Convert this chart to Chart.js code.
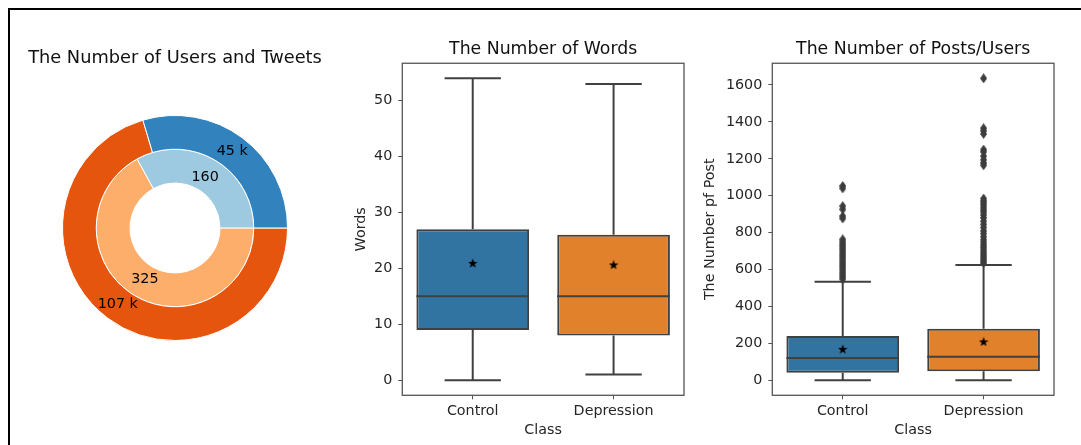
<!DOCTYPE html>
<html>
<head>
<meta charset="utf-8">
<script src="https://cdn.jsdelivr.net/npm/chart.js@4/dist/chart.umd.min.js"></script>
<style>
  html, body { margin: 0; padding: 0; background: #fff; overflow: hidden; width: 1081px; height: 445px; }
  #frame { position: absolute; left: 8px; top: 8px; width: 1100px; height: 460px;
           border-top: 2px solid #000; border-left: 2px solid #000; }
  canvas { position: absolute; top: 0; }
  #pie { left: 0; }
  #words { left: 340px; }
  #posts { left: 690px; }
</style>
</head>
<body>
<div id="frame"></div>
<canvas id="pie" width="340" height="445"></canvas>
<canvas id="words" width="350" height="445"></canvas>
<canvas id="posts" width="370" height="445"></canvas>
<script>
// ---- data ----
const categories = ['Control', 'Depression'];

// doughnut: users (inner ring) and tweets in thousands (outer ring)
const users = [160, 325];
const tweetsK = [45, 107];

// word counts per post
const wordQ1 = [9, 8];
const wordMedian = [15, 15];
const wordQ3 = [27, 26];
const wordLow = [0, 1];
const wordHigh = [54, 53];
const wordMean = [21, 20.7];
const wordTicks = [0, 10, 20, 30, 40, 50];

// posts per user
const postQ1 = [41, 49];
const postMedian = [121, 128];
const postQ3 = [240, 280];
const postLow = [1, 1];
const postHigh = [534, 625];
const postMean = [171, 211];
const postTicks = [0, 200, 400, 600, 800, 1000, 1200, 1400, 1600];
const postOutliersControl = [1053, 1040, 944, 926, 890, 877, 764, 752, 740, 728, 716, 704, 692, 680,
  668, 656, 644, 632, 620, 608, 596, 584, 572, 560, 548];
const postOutliersDepression = [1636, 1366, 1352, 1335, 1250, 1238, 1215, 1195, 1178, 1165, 985, 972,
  960, 948, 935, 922, 910, 895, 880, 862, 845, 828, 810, 795, 778, 762, 748, 735, 722, 710, 698, 686,
  675, 665, 655, 645, 636];

// ---- styling ----
const FONT = "'DejaVu Sans', sans-serif";
Chart.defaults.font.family = FONT;
Chart.defaults.animation = false;
Chart.defaults.color = '#262626';

const ringOuter = ['#3182bd', '#e6550d'];
const ringInner = ['#9ecae1', '#fdae6b'];
const boxFill = ['#3274a1', '#e1812c'];
const LINE = '#404040';
const SPINE = '#555555';
const TICK_PX = 14.3;
const TITLE_PX = 17.3;

function starMarker(size, color) {
  const c = document.createElement('canvas');
  c.width = c.height = size;
  const g = c.getContext('2d');
  const R = size / 2, r = R * 0.42;
  g.beginPath();
  for (let k = 0; k < 10; k++) {
    const rad = k % 2 ? r : R;
    const a = -Math.PI / 2 + k * Math.PI / 5;
    g.lineTo(R + rad * Math.cos(a), R + 0.6 + rad * Math.sin(a));
  }
  g.closePath();
  g.fillStyle = color;
  g.fill();
  return c;
}

function diamondMarker(w, h, color) {
  const c = document.createElement('canvas');
  c.width = w; c.height = h;
  const g = c.getContext('2d');
  g.beginPath();
  g.moveTo(w / 2, 0); g.lineTo(w, h / 2); g.lineTo(w / 2, h); g.lineTo(0, h / 2);
  g.closePath();
  g.fillStyle = color;
  g.fill();
  return c;
}

const star = starMarker(10, '#000');
const diamond = diamondMarker(7, 10, '#3d3d3d');

// ---- doughnut ----
const ringLabels = {
  id: 'ringLabels',
  afterDatasetsDraw(chart) {
    const { ctx } = chart;
    ctx.save();
    ctx.font = `${TICK_PX}px ${FONT}`;
    ctx.fillStyle = '#000';
    ctx.textAlign = 'center';
    ctx.textBaseline = 'middle';
    chart.data.datasets.forEach((ds, di) => {
      const meta = chart.getDatasetMeta(di);
      meta.data.forEach((arc, i) => {
        const p = arc.getProps(['x', 'y', 'startAngle', 'endAngle', 'outerRadius']);
        const mid = (p.startAngle + p.endAngle) / 2;
        const r = p.outerRadius * ds.labelRadius;
        ctx.fillText(ds.labelText[i], p.x + r * Math.cos(mid), p.y + r * Math.sin(mid));
      });
    });
    ctx.restore();
  }
};

// drawn clockwise from 3 o'clock, so the series go in reverse order
const rev = a => a.slice().reverse();
new Chart(document.getElementById('pie'), {
  type: 'doughnut',
  data: {
    labels: rev(categories),
    datasets: [
      { data: rev(tweetsK), backgroundColor: rev(ringOuter), borderColor: '#fff', borderWidth: 1,
        labelText: rev(tweetsK).map(v => `${v} k`), labelRadius: 0.85 },
      { data: rev(users), backgroundColor: rev(ringInner), borderColor: '#fff', borderWidth: 1,
        labelText: rev(users).map(v => `${v}`), labelRadius: 0.75 }
    ]
  },
  options: {
    responsive: false,
    rotation: 90,
    cutout: '40%',
    layout: { padding: { left: 10, right: 0, top: 0, bottom: 104 } },
    events: [],
    plugins: {
      legend: { display: false },
      tooltip: { enabled: false },
      title: {
        display: true, text: 'The Number of Users and Tweets', color: '#111',
        font: { size: 17.8, weight: 'normal', lineHeight: 1.2 },
        padding: { top: 47.3, bottom: 46.3 }
      }
    }
  },
  plugins: [ringLabels]
});

// ---- box plots ----
const frame = {
  id: 'frame',
  afterDraw(chart) {
    const { ctx, chartArea: a } = chart;
    ctx.save();
    ctx.strokeStyle = SPINE;
    ctx.lineWidth = 1.3;
    ctx.strokeRect(a.left, a.top, a.right - a.left, a.bottom - a.top);
    ctx.restore();
  }
};

function segments(list) {
  const pts = [];
  list.forEach(([x0, y0, x1, y1]) => { pts.push({ x: x0, y: y0 }, { x: x1, y: y1 }, { x: x1, y: null }); });
  return pts;
}

function boxChart(el, s) {
  const all = [...s.low, ...s.high, ...s.outliers.flat()];
  const lo = Math.min(...all), hi = Math.max(...all);
  const pad = (hi - lo) * 0.05;

  const whiskers = [], caps = [], medians = [];
  categories.forEach((c, i) => {
    whiskers.push([i, s.q3[i], i, s.high[i]], [i, s.q1[i], i, s.low[i]]);
    caps.push([i - 0.2, s.high[i], i + 0.2, s.high[i]], [i - 0.2, s.low[i], i + 0.2, s.low[i]]);
    medians.push([i - 0.4, s.median[i], i + 0.4, s.median[i]]);
  });
  const outlierPts = [];
  s.outliers.forEach((arr, i) => arr.forEach(v => outlierPts.push({ x: i, y: v })));

  const lineSet = (pts, order) => ({
    type: 'line', data: segments(pts), borderColor: LINE, borderWidth: 2, pointRadius: 0,
    spanGaps: false, order, borderCapStyle: 'butt'
  });

  return new Chart(el, {
    type: 'bar',
    data: {
      datasets: [
        { type: 'line', data: categories.map((c, i) => ({ x: i, y: s.mean[i] })), showLine: false,
          pointStyle: star, pointRadius: 5, order: 0 },
        { type: 'line', data: outlierPts, showLine: false, pointStyle: diamond, pointRadius: 4, order: 0 },
        lineSet(medians, 1),
        { type: 'bar', data: categories.map((c, i) => ({ x: i, y: [s.q1[i], s.q3[i]] })),
          backgroundColor: boxFill, borderColor: LINE, borderWidth: 2, borderSkipped: false,
          barPercentage: 0.8, categoryPercentage: 1, order: 2 },
        lineSet([...whiskers, ...caps], 3)
      ]
    },
    options: {
      responsive: false,
      events: [],
      layout: { padding: { left: 0, right: s.padRight, top: 0, bottom: 0 } },
      plugins: {
        legend: { display: false },
        tooltip: { enabled: false },
        title: {
          display: true, text: s.title, color: '#111', fullSize: false,
          font: { size: TITLE_PX, weight: 'normal', lineHeight: 1.2 },
          padding: { top: 38.8, bottom: 3.7 }
        }
      },
      scales: {
        x: {
          type: 'linear', min: -0.5, max: 1.5, offset: false,
          afterBuildTicks: sc => { sc.ticks = categories.map((c, i) => ({ value: i })); },
          afterFit: sc => { sc.height = 49.7; },
          ticks: { callback: v => categories[v], padding: 3, maxRotation: 0, autoSkip: false,
                   font: { size: TICK_PX, lineHeight: 1.2 } },
          grid: { drawOnChartArea: false, drawTicks: true, tickLength: 4, tickColor: SPINE, offset: false },
          border: { display: false },
          title: { display: true, text: 'Class', font: { size: TICK_PX, lineHeight: 1.2 },
                   padding: { top: 0, bottom: 6.4 } }
        },
        y: {
          type: 'linear', min: lo - pad, max: hi + pad,
          afterBuildTicks: sc => { sc.ticks = s.ticks.map(v => ({ value: v })); },
          afterFit: sc => { sc.width = s.yWidth; },
          ticks: { padding: 6, callback: v => String(v), font: { size: TICK_PX, lineHeight: 1.2 } },
          grid: { drawOnChartArea: false, drawTicks: true, tickLength: 4, tickColor: SPINE },
          border: { display: false },
          title: { display: true, text: s.yTitle, font: { size: TICK_PX, lineHeight: 1.2 },
                   padding: { top: s.yTitlePad, bottom: 0 } }
        }
      }
    },
    plugins: [frame]
  });
}

boxChart(document.getElementById('words'), {
  title: 'The Number of Words', yTitle: 'Words',
  q1: wordQ1, median: wordMedian, q3: wordQ3, low: wordLow, high: wordHigh, mean: wordMean,
  outliers: [[], []], ticks: wordTicks, yWidth: 62.3, yTitlePad: 13.1, padRight: 2.3
});

boxChart(document.getElementById('posts'), {
  title: 'The Number of Posts/Users', yTitle: 'The Number pf Post',
  q1: postQ1, median: postMedian, q3: postQ3, low: postLow, high: postHigh, mean: postMean,
  outliers: [postOutliersControl, postOutliersDepression], ticks: postTicks,
  yWidth: 82.3, yTitlePad: 12.1, padRight: 3.3
});
</script>
</body>
</html>
